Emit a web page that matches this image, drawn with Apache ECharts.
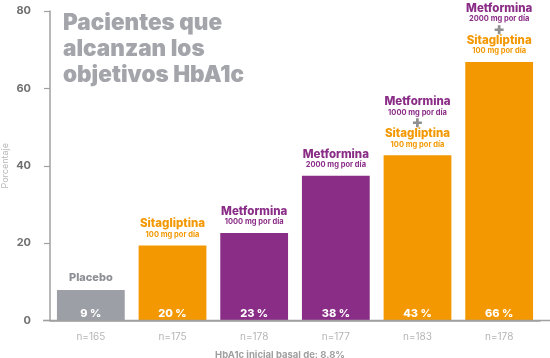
<!DOCTYPE html>
<html><head><meta charset="utf-8">
<script src="https://cdn.jsdelivr.net/npm/echarts@6/dist/echarts.min.js"></script>
<style>html,body{margin:0;padding:0;background:#fff}#c{width:550px;height:358px}</style>
</head><body><div id="c"></div>
<script>
const categories = ["n=165","n=175","n=178","n=177","n=183","n=178"];
const values = [7.9, 19.4, 22.6, 37.4, 42.7, 66.8];
const valueLabels = ["9 %","20 %","23 %","38 %","43 %","66 %"];
const barKinds = ["placebo","sita","met","met","sita","sita"];
const annotations = [
  [["p","Placebo"]],
  [["s","Sitagliptina"],["ds","100 mg por día"]],
  [["m","Metformina"],["dm","1000 mg por día"]],
  [["m","Metformina"],["dm","2000 mg por día"]],
  [["m","Metformina"],["dm","1000 mg por día"],["plus","+"],["s","Sitagliptina"],["ds","100 mg por día"]],
  [["m","Metformina"],["dm","2000 mg por día"],["plus","+"],["s","Sitagliptina"],["ds","100 mg por día"]]
];
const yTicks = [0,20,40,60,80];
const titleText = "Pacientes que\nalcanzan los\nobjetivos HbA1c";
const yName = "Porcentaje";
const xName = "HbA1c inicial basal de: 8.8%";

const colors = {placebo:"#9d9fa6", sita:"#f39800", met:"#8a2d87"};
const FONT = "Inter, 'Open Sans', sans-serif";
const chart = echarts.init(document.getElementById('c'));
const rich = {
  p:{color:"#8d8f95",fontSize:11,fontWeight:800,lineHeight:13,fontFamily:FONT},
  m:{color:"#8a2d87",fontSize:11.5,fontWeight:800,lineHeight:11,fontFamily:FONT},
  s:{color:"#f39800",fontSize:11.5,fontWeight:800,lineHeight:11,fontFamily:FONT},
  dm:{color:"#8a2d87",fontSize:7.5,fontWeight:700,lineHeight:10,fontFamily:FONT},
  ds:{color:"#f39800",fontSize:7.5,fontWeight:700,lineHeight:10,fontFamily:FONT},
  plus:{color:"#8f8f8f",fontSize:17,fontWeight:900,lineHeight:11,fontFamily:FONT}
};
chart.setOption({
  animation:false,
  title:{text:titleText,left:58,top:5,textStyle:{color:"#a3a5ab",fontSize:22.5,fontWeight:900,lineHeight:26,fontFamily:FONT}},
  grid:{left:50,right:10,top:11,bottom:37.5,containLabel:false,outerBoundsMode:"none"},
  xAxis:{type:"category",data:categories,
    axisLine:{lineStyle:{color:"#a0a0a0",width:1.5}},axisTick:{show:false},
    axisLabel:{color:"#b5b5b5",fontSize:10,margin:11,fontFamily:FONT},
    name:xName,nameLocation:"middle",nameGap:30,
    nameTextStyle:{color:"#a0a0a0",fontSize:9.5,fontWeight:700,fontFamily:FONT,padding:[0,30,0,0]}},
  yAxis:{type:"value",min:0,max:80,interval:20,
    axisLine:{show:true,lineStyle:{color:"#a0a0a0",width:1.5}},
    axisTick:{show:true,length:6,lineStyle:{color:"#a0a0a0",width:1.2}},
    splitLine:{show:false},
    axisLabel:{color:"#6f6f6f",fontSize:11,fontWeight:700,margin:19,fontFamily:FONT,
      formatter:v=>yTicks.includes(v)?String(v):""},
    name:yName,nameLocation:"middle",nameGap:40,nameMoveOverlap:false,
    nameTextStyle:{color:"#b8b8b8",fontSize:9,fontFamily:FONT}},
  series:[
    {type:"bar",barWidth:"83%",barGap:"-100%",
     data:values.map((v,i)=>({value:v,itemStyle:{color:colors[barKinds[i]]}})),
     label:{show:true,position:"insideBottom",distance:1,color:"#fff",fontSize:11,fontWeight:800,fontFamily:FONT,
       formatter:p=>valueLabels[p.dataIndex]}},
    {type:"bar",barWidth:"83%",barGap:"-100%",silent:true,
     data:values.map(v=>({value:v,itemStyle:{color:"rgba(0,0,0,0)"}})),
     label:{show:true,position:"top",distance:6,rich:rich,align:"center",
       formatter:p=>annotations[p.dataIndex].map(a=>"{"+a[0]+"|"+a[1]+"}").join("\n")}}
  ]
});
const y0 = chart.convertToPixel({yAxisIndex:0},0);
chart.setOption({graphic:[{type:"line",shape:{x1:43,y1:y0,x2:550,y2:y0},style:{stroke:"#a0a0a0",lineWidth:1.5},z:10}]});
</script></body></html>
